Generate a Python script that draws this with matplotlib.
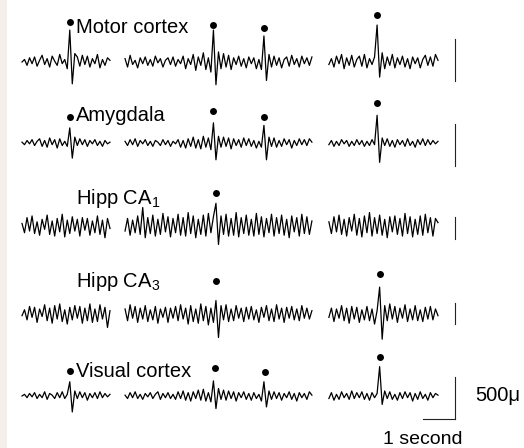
import numpy as np
import matplotlib
matplotlib.use("Agg")
import matplotlib.pyplot as plt
from matplotlib.patches import Rectangle

plt.rcParams["font.family"] = ["Liberation Sans", "DejaVu Sans"]
plt.rcParams["mathtext.fontset"] = "custom"
plt.rcParams["mathtext.rm"] = "Liberation Sans"
plt.rcParams["mathtext.it"] = "Liberation Sans"

# channel names, top to bottom
channels = ["Motor cortex", "Amygdala", "Hipp CA$_1$", "Hipp CA$_3$", "Visual cortex"]

# start / end of the three sweeps, seconds
sweeps = [(0.0, 2.75), (3.22, 9.06), (9.59, 13.0)]

# EEG samples, units of 10 uV
motor_1 = [0, 3, -4, 5, -2, 6, -5, 2, 8, -3, 4, -6, 7, 1, -4, 9, -2, 3, -8, 38,
           -26, 10, 6, -5, 8, -3, 7, -6, 4, -2, 9, -7, 3, -4, 5, 2]
motor_2 = [4, -6, 8, -3, 2, -7, 5, -2, 6, -4, 3, -5, 7, -1, 4, -6, 2, 5, -3, 6,
           -5, 3, -2, 7, -8, 4, -3, 9, -10, 6, -4, 11, -9, 5, -12, 38, -27, 12, -8, 10,
           -6, 8, -9, 5, -3, 7, -5, 4, -7, 6, -2, 5, -8, 3, -9, 31, -22, 9, -6, 7,
           -4, 5, -7, 3, 6, -5, 8, -3, 4, -6, 7, -2, 5, -4, 6]
motor_3 = [-3, 4, -6, 7, -2, 9, -8, 5, -4, 8, -6, 3, 7, -5, 9, -7, 4, -3, 6, 44,
           -18, 11, -8, 6, -4, 9, -7, 5, -3, 7, -6, 4, -8, 6, -2, 5, -7, 3, 8, -4,
           6, -5, 9, 2]

amyg_1 = [1, -2, 3, -1, 4, -3, 2, 5, -4, 3, -5, 6, -2, 4, -6, 5, -3, 2, -4, 18,
          -18, 7, -3, 5, -2, 4, -4, 3, -1, 4, -3, 2, -4, 3, -1, 1]
amyg_2 = [2, -3, 4, -2, 5, -4, 3, -1, 4, -3, 2, -4, 3, 1, -3, 4, -2, 3, -4, 2,
          -1, 4, -5, 3, -6, 5, -4, 7, -6, 4, -7, 8, -5, 6, -8, 24, -20, 8, -5, 7,
          -4, 6, -7, 5, -3, 4, -5, 6, -3, 5, -4, 3, -6, 2, -5, 21, -20, 7, -4, 6,
          -5, 3, -4, 5, -2, 4, -6, 3, -3, 5, -2, 4, -3, 5, 1]
amyg_3 = [-2, 3, -4, 2, -3, 4, -1, 3, -4, 2, -3, 4, -2, 3, -4, 2, -3, 4, -2, 33,
          -23, 6, -3, 5, -4, 3, -5, 4, -2, 3, -4, 5, -3, 2, -5, 4, -2, 5, -3, 4,
          -2, 3, -1, 2]

ca1_1 = [3, -8, 10, -6, 12, -9, 5, -11, 8, -4, 13, -10, 6, -12, 9, -7, 14, -13, 7, -9,
         11, -6, 8, -12, 10, -5, 9, -11, 6, -8, 12, -10, 7, -14, 9, -3]
ca1_2 = [-6, 9, -11, 7, -8, 12, -10, 22, -14, 10, -9, 13, -12, 8, -10, 15, -7, 11, -13, 9,
         -8, 14, -11, 10, -12, 16, -9, 12, -14, 8, -10, 13, -12, 15, -8, 11, 27, -22, 12, -10,
         14, -12, 9, -11, 16, -13, 10, -9, 13, -11, 8, -12, 15, -10, 11, -13, 9, -8, 14, -12,
         10, -9, 13, -11, 8, -14, 12, -7, 10, -12, 14, -9, 11, -10, 6]
ca1_3 = [5, -9, 11, -7, 13, -10, 8, -12, 10, -6, 14, -11, 9, -13, 12, -8, 16, -12, 10, -9,
         13, -11, 8, -14, 11, -7, 12, -10, 9, -12, 15, -9, 11, -13, 8, -10, 12, -11, 14, -8,
         10, -12, 9, 4]

ca3_1 = [-2, 5, -7, 9, -4, 8, -10, 6, -3, 11, -8, 7, -11, 10, -6, 12, -9, 5, -12, 8,
         -7, 10, -5, 9, -11, 7, -8, 12, -10, 6, -9, 11, -6, 8, -16, 4]
ca3_2 = [6, -8, 11, -5, 9, -10, 7, -6, 10, -9, 5, -7, 9, -11, 6, -4, 8, -10, 7, -5,
         9, -8, 11, -6, 7, -12, 10, -9, 6, -11, 12, -8, 9, -13, 7, -10, 16, -28, 10, -7,
         11, -9, 6, -8, 10, -5, 7, -9, 8, -6, 9, -7, 5, -10, 8, -4, 10, -8, 6, -9,
         11, -6, 7, -10, 8, -5, 9, -7, 6, -8, 10, -5, 7, -6, 4]
ca3_3 = [-4, 7, -9, 6, -5, 10, -8, 7, -11, 9, -6, 8, -10, 5, -7, 9, -8, 6, -12, 4,
         32, -30, 10, -8, 12, -6, 9, -10, 7, -5, 11, -9, 6, -7, 10, -8, 5, -9, 8, -6,
         9, -7, 6, -2]

vis_1 = [0, 2, -2, 3, -1, 4, -3, 2, -2, 5, -4, 3, 1, -3, 4, -2, 5, -3, 2, 17,
         -19, 6, -3, 5, -2, 4, -5, 3, -2, 4, -3, 5, -2, 3, -1, 2]
vis_2 = [1, -3, 4, -2, 5, -3, 2, -4, 3, -1, 4, -3, 2, 5, -4, 3, -2, 4, -3, 2,
         -4, 5, -3, 6, -5, 4, -6, 5, -3, 7, -5, 8, -6, 4, -7, 18, -15, 9, -4, 7,
         -5, 6, -3, 5, -6, 4, -2, 5, -4, 3, -5, 4, -3, 2, -6, 17, -13, 6, -4, 5,
         -3, 4, -5, 3, -2, 5, -4, 3, -6, 4, -2, 3, -4, 5, 1]
vis_3 = [-3, 4, -5, 2, -4, 5, -2, 3, -4, 6, -3, 4, -2, 5, -4, 3, -5, 4, -2, 3,
         35, -10, 6, -3, 5, -4, 2, -5, 4, -3, 5, -2, 4, -6, 3, -4, 5, -3, 2, -5,
         4, -2, 3, 1]

traces = [
    [motor_1, motor_2, motor_3],
    [amyg_1, amyg_2, amyg_3],
    [ca1_1, ca1_2, ca1_3],
    [ca3_1, ca3_2, ca3_3],
    [vis_1, vis_2, vis_3],
]

# spike markers (seconds, height above trace in 10 uV)
spike_times = [
    [1.49, 5.98, 7.56, 11.10],
    [1.49, 5.98, 7.56, 11.10],
    [6.06],
    [6.06, 11.18],
    [1.49, 6.02, 7.60, 11.18],
]
spike_heights = [
    [48, 44, 40, 56],
    [31, 38, 31, 48],
    [39],
    [39, 48],
    [30, 33, 29, 46],
]

# calibration bars per channel (10 uV units)
cal_len = [50, 50, 26, 25, 50]
cal_low = [-23, -27, -15, -12, -27]

# layout, pixels
W, H = 524, 448
PX_PER_SEC = 32.0
PX_PER_UNIT = 42.0 / 50.0
X0 = 22
row_px = [62, 143, 226, 314, 396]
label_base_px = [33, 121, 204, 287, 377]

fig = plt.figure(figsize=(W / 100, H / 100), dpi=100)
fig.patches.append(Rectangle((0, 0), 7 / W, 1, transform=fig.transFigure,
                             facecolor="#f6efe9", edgecolor="none", zorder=0))
ax = fig.add_axes([0, 0, 1, 1])
ax.set_xlim(-X0 / PX_PER_SEC, (W - X0) / PX_PER_SEC)
ax.set_ylim(-H / PX_PER_UNIT, 0)
ax.axis("off")
ax.patch.set_alpha(0)

bar_t = 13.52
for r in range(len(channels)):
    base = -row_px[r] / PX_PER_UNIT
    for (t0, t1), seg in zip(sweeps, traces[r]):
        t = np.linspace(t0, t1, len(seg))
        ax.plot(t, base + np.array(seg), color="black", lw=0.9)
    ax.plot(spike_times[r], base + np.array(spike_heights[r]), "o",
            color="black", ms=5, mec="none")
    ax.plot([bar_t, bar_t], [base + cal_low[r], base + cal_low[r] + cal_len[r]],
            color="#222222", lw=0.8)
    fig.text(76 / W, 1 - label_base_px[r] / H, channels[r], fontsize=14.5,
             ha="left", va="baseline")

# time scale bar on the last channel
base = -row_px[-1] / PX_PER_UNIT
ax.plot([bar_t - 1.0, bar_t], [base + cal_low[-1]] * 2, color="#222222", lw=0.8)
fig.text(475 / W, 1 - 401 / H, "500\u03bc", fontsize=14.5, ha="left", va="baseline")
fig.text(423 / W, 1 - 444 / H, "1 second", fontsize=14, ha="center", va="baseline")

fig.savefig("out.png", dpi=100)
